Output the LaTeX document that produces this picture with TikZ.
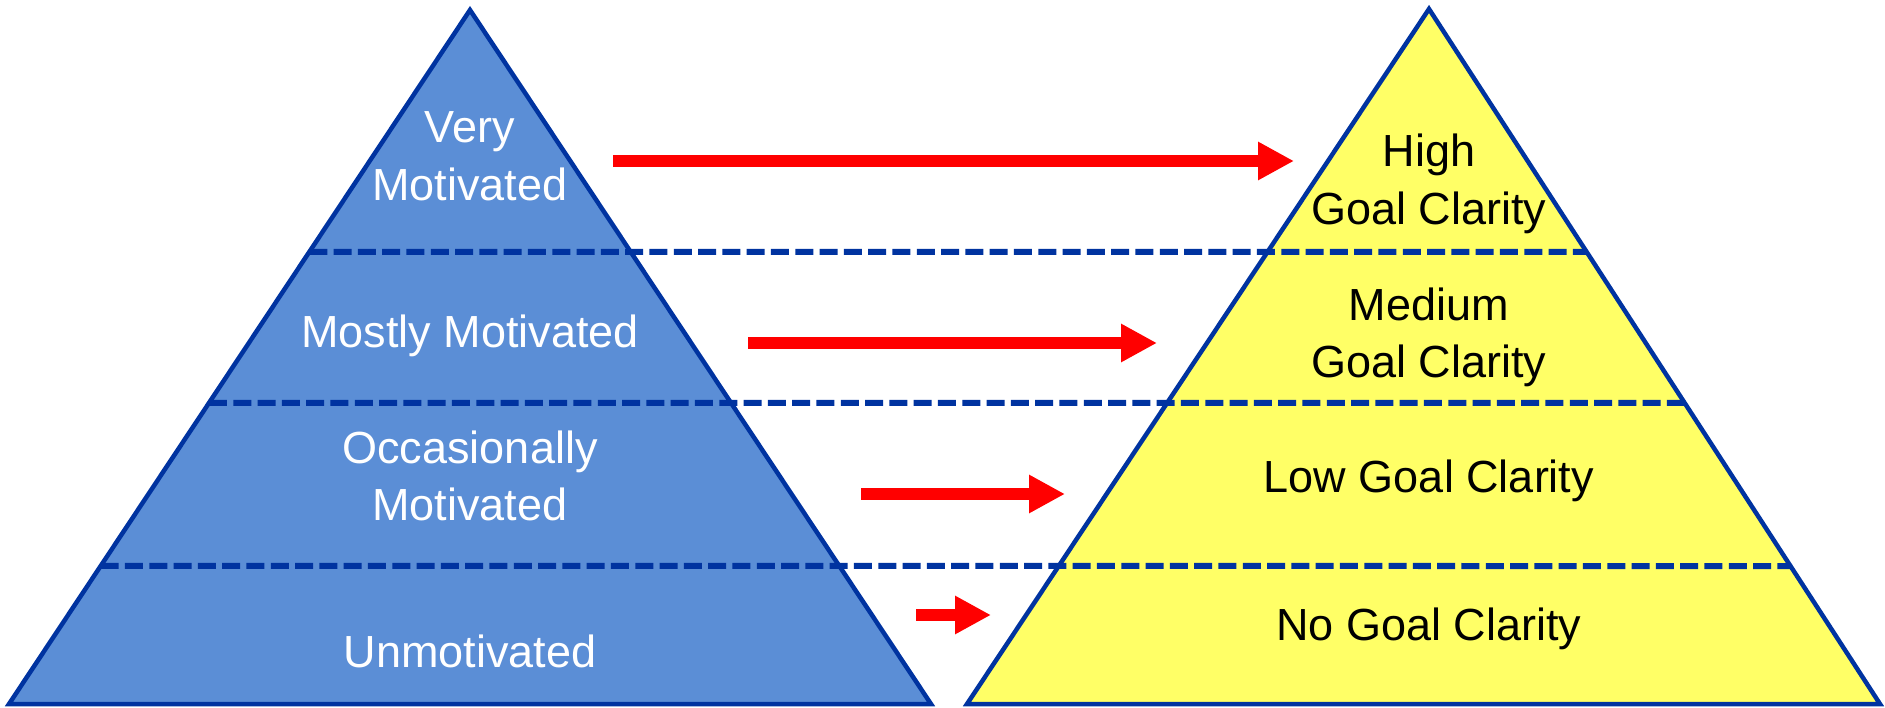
\documentclass[tikz,border=0pt]{standalone}
\usepackage{fontspec}
\setmainfont{Liberation Sans}
\usetikzlibrary{arrows.meta,calc}
\definecolor{pyrblue}{HTML}{5B8ED6}
\definecolor{pyryellow}{HTML}{FFFF66}
\definecolor{edgeblue}{HTML}{0033A0}
\definecolor{arrowred}{HTML}{FF0000}
\tikzset{
  pyramid/.style={draw=edgeblue, line width=4.5pt, line join=miter},
  levelline/.style={draw=edgeblue, line width=6pt, dash pattern=on 18pt off 6.3pt},
  lbl/.style={inner sep=0pt, align=center, font=\fontsize{45}{57.7}\selectfont},
  lblw/.style={lbl, text=white},
  lblk/.style={lbl, text=black},
  redarrow/.style={draw=arrowred, line width=11.5pt, -{Triangle[length=36pt,width=36pt]}}
}
\begin{document}
\begin{tikzpicture}[x=1pt,y=-1pt]
\useasboundingbox (0,0) rectangle (1885,708);
% vertices
\coordinate (LA) at (470,10);
\coordinate (LL) at (9,704);
\coordinate (LR) at (931,704);
\coordinate (RA) at (1429,9);
\coordinate (RL) at (967,704);
\coordinate (RR) at (1880,704);
% pyramids
\fill[pyrblue] (LA) -- (LL) -- (LR) -- cycle;
\fill[pyryellow] (RA) -- (RL) -- (RR) -- cycle;
% level lines
\coordinate (d1s) at ($(LA)!{(252-10)/694}!(LL)$);
\coordinate (d1e) at ($(RA)!{(252-9)/695}!(RR)$);
\coordinate (d2s) at ($(LA)!{(403-10)/694}!(LL)$);
\coordinate (d2e) at ($(RA)!{(403-9)/695}!(RR)$);
\coordinate (d3s) at ($(LA)!{(566-10)/694}!(LL)$);
\coordinate (d3e) at ($(RA)!{(566-9)/695}!(RR)$);
\draw[levelline] (d1s) -- (d1e);
\draw[levelline] (d2s) -- (d2e);
\draw[levelline] (d3s) -- (d3e);
% outlines
\draw[pyramid] (LA) -- (LL) -- (LR) -- cycle;
\draw[pyramid] (RA) -- (RL) -- (RR) -- cycle;
% labels
\node[lblw] (m1) at (470,156.4) {Very\\Motivated};
\node[lblw] (m2) at (470,336) {Mostly Motivated};
\node[lblw] (m3) at (470,476) {Occasionally\\Motivated};
\node[lblw] (m4) at (470,651) {Unmotivated};
\node[lblk] (g1) at (1429,184) {High\\Goal Clarity};
\node[lblk] (g2) at (1429,337.5) {Medium\\Goal Clarity};
\node[lblk] (g3) at (1429,480.7) {Low Goal Clarity};
\node[lblk] (g4) at (1429,628.7) {No Goal Clarity};
% arrows
\coordinate (a1s) at (613,161);
\coordinate (a1e) at (1294,161);
\coordinate (a2s) at (748,343);
\coordinate (a2e) at (1157,343);
\coordinate (a3s) at (861,494);
\coordinate (a3e) at (1065,494);
\coordinate (a4s) at (916,615);
\coordinate (a4e) at (991,615);
\draw[redarrow] (a1s) -- (a1e);
\draw[redarrow] (a2s) -- (a2e);
\draw[redarrow] (a3s) -- (a3e);
\draw[redarrow] (a4s) -- (a4e);
\end{tikzpicture}
\end{document}
